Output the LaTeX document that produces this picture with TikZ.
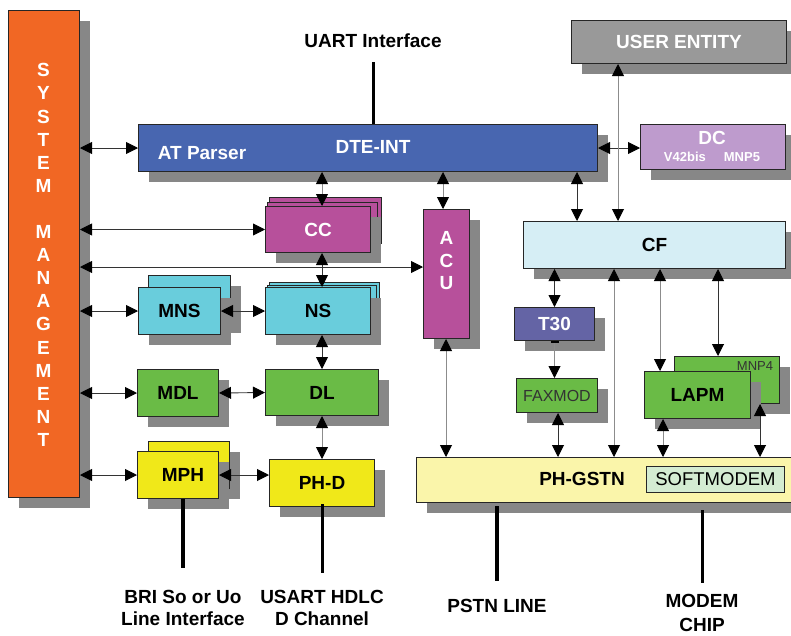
\documentclass[tikz,border=0pt]{standalone}
\usepackage{fontspec}
\setmainfont{Liberation Sans}
\usetikzlibrary{arrows.meta,shadows}
\definecolor{smor}{RGB}{241,103,36}
\definecolor{dteblue}{RGB}{72,102,176}
\definecolor{uegray}{RGB}{153,153,153}
\definecolor{dclilac}{RGB}{190,155,205}
\definecolor{cfcol}{RGB}{214,238,245}
\definecolor{mag}{RGB}{183,80,155}
\definecolor{nscyan}{RGB}{105,205,220}
\definecolor{grn}{RGB}{106,187,70}
\definecolor{yel}{RGB}{240,232,25}
\definecolor{t30c}{RGB}{100,100,165}
\definecolor{phgcol}{RGB}{250,245,170}
\definecolor{softc}{RGB}{212,236,210}
\definecolor{shd}{RGB}{135,135,135}
\begin{document}
\begin{tikzpicture}[x=1pt,y=-1pt,
  bfont/.style={font=\bfseries\fontsize{19}{22}\selectfont},
  wh/.style 2 args={minimum width=#1pt,minimum height=#2pt},
  flat/.style={draw=black!85,line width=1pt,anchor=north west,inner sep=0pt,bfont},
  box/.style={flat,drop shadow={shadow xshift=10pt,shadow yshift=-10pt,opacity=1,fill=shd}},
  link/.style={{Triangle[length=12pt,width=12pt,color=black]}-{Triangle[length=12pt,width=12pt,color=black]},draw=black!80,line width=0.9pt},
  glink/.style={link,draw=black!45},
  feed/.style={line width=3.5pt},
  lbl/.style={bfont,align=center}]
\useasboundingbox (0,0) rectangle (791,635);

% system management
\node[box,fill=smor,wh={71}{487}] (sm) at (8,10) {};
\node[text=white,align=center,font=\bfseries\fontsize{19}{23.1}\selectfont] (smtxt) at (43.5,255)
  {S\\Y\\S\\T\\E\\M\\[23.1pt]M\\A\\N\\A\\G\\E\\M\\E\\N\\T};

% top row
\node[lbl] (uart) at (373,41) {UART Interface};
\node[box,fill=dteblue,wh={459}{47}] (dte) at (138,124) {};
\node[bfont,text=white] (atp) at (202,153) {AT Parser};
\node[bfont,text=white] (dtet) at (373,147) {DTE-INT};
\node[box,fill=uegray,text=white,wh={215}{43}] (ue) at (571,20) {USER ENTITY};
\node[box,fill=dclilac,wh={145}{45}] (dc) at (640,124) {};
\node[bfont,text=white] (dct) at (712,138) {DC};
\node[text=white,font=\bfseries\fontsize{13}{15}\selectfont] (dcs) at (712,157) {V42bis\hspace{18pt}MNP5};
\node[box,fill=cfcol,wh={262}{47}] (cf) at (523,221) {CF};
\node[box,fill=mag,text=white,wh={46}{129},align=center,font=\bfseries\fontsize{19}{22.5}\selectfont] (acu) at (423,209) {A\\C\\U\\[4pt]};

% CC stack
\node[flat,fill=mag,wh={112}{46}] (cc3) at (269,197) {};
\node[flat,fill=mag,wh={110}{46}] (cc2) at (267,201.5) {};
\node[box,fill=mag,text=white,wh={105}{46}] (cc) at (265,206) {CC};

% NS stack
\node[flat,fill=nscyan,wh={110}{47}] (ns3) at (269,282) {};
\node[flat,fill=nscyan,wh={109}{47}] (ns2) at (267,284.5) {};
\node[box,fill=nscyan,wh={105}{47}] (ns) at (265,287) {NS};

% MNS stack
\node[box,fill=nscyan,wh={82}{47}] (mns2) at (148,275) {};
\node[box,fill=nscyan,wh={82}{47}] (mns) at (138,287) {MNS};

\node[box,fill=grn,wh={81}{47}] (mdl) at (137,369) {MDL};
\node[box,fill=grn,wh={113}{46}] (dl) at (265,369) {DL};
\node[box,fill=yel,wh={81}{47}] (mph2) at (148,441) {};
\node[box,fill=yel,wh={81}{47}] (mph) at (137,451) {\hspace*{10pt}MPH};
\node[box,fill=yel,wh={105}{47}] (phd) at (269,459) {PH-D};

% right side
\node[box,fill=t30c,text=white,wh={80}{33}] (t30) at (514,307) {T30};
\node[box,fill=grn,wh={81}{34},font=\fontsize{16}{18}\selectfont,text=black!80] (fax) at (516,378) {FAXMOD};
\node[box,fill=grn,wh={105}{47}] (mnp4) at (674,356) {};
\node[font=\fontsize{13}{15}\selectfont,text=black!80] (mnp4t) at (755,366) {MNP4};
\node[box,fill=grn,wh={106}{47}] (lapm) at (644,371) {LAPM};
\node[box,fill=phgcol,wh={390}{45}] (phg) at (416,457) {};
\node[bfont] (phgt) at (582,479) {PH-GSTN};
\node[flat,fill=softc,wh={138}{26},font=\fontsize{18.5}{21}\selectfont] (soft) at (646,466) {SOFTMODEM};

% bottom labels
\node[lbl] (bri) at (183,608) {BRI So or Uo\\Line Interface};
\node[lbl] (usart) at (322,608) {USART HDLC\\D Channel};
\node[lbl] (pstn) at (497,606) {PSTN LINE};
\node[lbl,font=\bfseries\fontsize{19}{24}\selectfont] (modem) at (702,613) {MODEM\\CHIP};

% feed lines
\coordinate (uartend) at (373,62);
\draw[line width=3pt] (uartend) -- (uartend |- dte.north);
\coordinate (briend) at (183,568);
\draw[feed] (mph.south -| briend) -- (briend);
\coordinate (phdend) at (322,573);
\draw[line width=3pt] ([yshift=3pt]phd.south -| phdend) -- (phdend);
\coordinate (pstnend) at (497,581);
\draw[feed] ([yshift=-3pt]phg.south -| pstnend) -- (pstnend);
\coordinate (modemend) at (702,583);
\draw[line width=3pt] ([yshift=-7pt]phg.south -| modemend) -- (modemend);

% horizontal connectors
\draw[link] (sm.east |- dte.west) -- (dte.west);
\draw[link] (sm.east |- cc.west) -- (cc.west);
\coordinate (acuy) at (0,267);
\draw[link] (sm.east |- acuy) -- (acu.west |- acuy);
\draw[link] (sm.east |- mns.west) -- (mns.west);
\draw[link] (mns.east) -- (ns.west);
\draw[link] (sm.east |- mdl.west) -- (mdl.west);
\draw[link] (mdl.east) -- (dl.west);
\draw[link] (sm.east |- mph.west) -- (mph.west);
\draw[link] (mph.east) -- (phd.west |- mph.east);
\draw[link] (dte.east) -- (dc.west |- dte.east);

% vertical connectors
\coordinate (xa) at (322,0);
\draw[glink] (dte.south -| xa) -- (cc.north -| xa);
\draw[link] (cc.south -| xa) -- (ns.north -| xa);
\draw[link] (ns.south -| xa) -- (dl.north -| xa);
\draw[glink] (dl.south -| xa) -- (phd.north -| xa);
\coordinate (xb) at (443,0);
\draw[glink] (dte.south -| xb) -- (acu.north -| xb);
\coordinate (xc) at (446,0);
\draw[glink] (acu.south -| xc) -- (phg.north -| xc);
\coordinate (xd) at (577,0);
\draw[link] (dte.south -| xd) -- (cf.north -| xd);
\coordinate (xe) at (618,0);
\draw[glink] (ue.south -| xe) -- (cf.north -| xe);
\draw[link] (cf.south -| t30.north) -- (t30.north);
\draw[{Bar[width=8pt,line width=2pt,color=black]}-{Triangle[length=12pt,width=12pt,color=black]},draw=black!45,line width=0.9pt] (t30.south) -- (fax.north -| t30.south);
\coordinate (xf) at (558,0);
\draw[link] (fax.south -| xf) -- (phg.north -| xf);
\coordinate (xg) at (614,0);
\draw[glink] (cf.south -| xg) -- (phg.north -| xg);
\coordinate (xh) at (660,0);
\draw[glink] (cf.south -| xh) -- (lapm.north -| xh);
\coordinate (xi) at (718,0);
\draw[link] (cf.south -| xi) -- (mnp4.north -| xi);
\coordinate (xj) at (663,0);
\draw[glink] (lapm.south -| xj) -- (phg.north -| xj);
\coordinate (xk) at (760,0);
\draw[link] (mnp4.south -| xk) -- (phg.north -| xk);
\end{tikzpicture}
\end{document}
